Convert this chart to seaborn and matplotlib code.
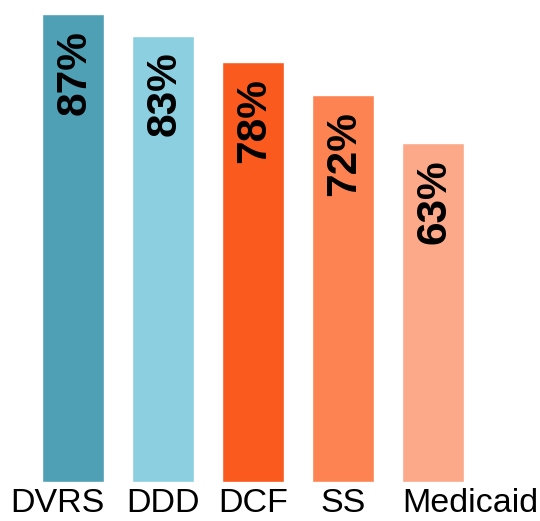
import matplotlib
matplotlib.use('Agg')
import matplotlib.pyplot as plt
import seaborn as sns
import pandas as pd

# Data
agencies = ['DVRS', 'DDD', 'DCF', 'SS', 'Medicaid']
values = [87, 83, 78, 72, 63]
colors = ['#4fa0b4', '#8ccfe0', '#fb5a1e', '#fd8452', '#fca98a']

df = pd.DataFrame({'Agency': agencies, 'Value': values})

sns.set_style('white')
plt.rcParams['font.family'] = ['Liberation Sans', 'DejaVu Sans']

fig = plt.figure(figsize=(5.4, 5.21), dpi=100)
ax = fig.add_axes([28 / 540, 39 / 521, 450 / 540, 482 / 521])

bw = 0.69
sns.barplot(data=df, x='Agency', y='Value', hue='Agency', palette=colors,
            width=bw, saturation=1, legend=False, ax=ax)

ax.set_xlim(-0.5, 4.5)
ax.set_ylim(0, 89.6)

for i, v in enumerate(values):
    ax.annotate(f'{v}%', xy=(i, v), xytext=(1, -11.5), textcoords='offset points',
                rotation=90, ha='center', va='top', fontsize=30.5,
                fontweight='bold', color='black')

# first label flush with bar's right edge, last flush with bar's left edge
n = len(agencies)
ticks = [i for i in range(n)]
ticks[0] = 0 + bw / 2
ticks[-1] = n - 1 - bw / 2
ax.set_xticks(ticks)
ax.set_xticklabels(agencies)
labels = ax.get_xticklabels()
labels[0].set_ha('right')
labels[-1].set_ha('left')

ax.set_xlabel('')
ax.set_ylabel('')
ax.set_yticks([])
ax.tick_params(axis='x', length=0, labelsize=24.5, pad=4.5, labelcolor='black')
for s in ax.spines.values():
    s.set_visible(False)

plt.savefig('out.png', dpi=100)
